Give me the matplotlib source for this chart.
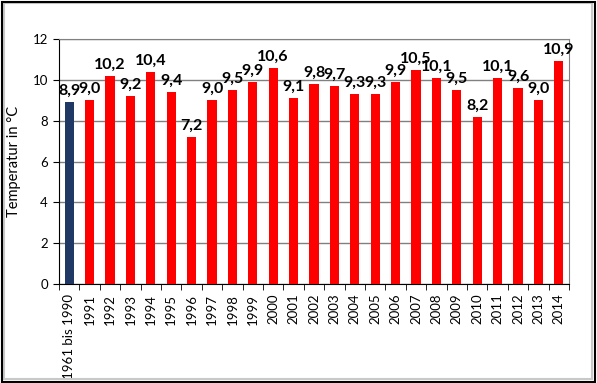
import matplotlib
matplotlib.use("Agg")
import matplotlib.pyplot as plt
from matplotlib.patches import Rectangle

categories = ["1961 bis 1990", "1991", "1992", "1993", "1994", "1995", "1996", "1997",
              "1998", "1999", "2000", "2001", "2002", "2003", "2004", "2005", "2006",
              "2007", "2008", "2009", "2010", "2011", "2012", "2013", "2014"]
values = [8.9, 9.0, 10.2, 9.2, 10.4, 9.4, 7.2, 9.0, 9.5, 9.9, 10.6, 9.1, 9.8, 9.7,
          9.3, 9.3, 9.9, 10.5, 10.1, 9.5, 8.2, 10.1, 9.6, 9.0, 10.9]
yticks = [0, 2, 4, 6, 8, 10, 12]

plt.rcParams['font.family'] = ['Lato', 'DejaVu Sans']

fig = plt.figure(figsize=(5.97, 3.83), dpi=100)
ax = fig.add_axes([59/597, 1 - 284/383, (569-59)/597, (284-39)/383])

colors = ['#1f3864'] + ['#ff0000'] * (len(values) - 1)
x = list(range(len(values)))
ax.bar(x, values, width=0.45, color=colors, zorder=3)

for xi, v in zip(x, values):
    ax.annotate(f"{v:.1f}".replace('.', ','), (xi, v), xytext=(0, 3),
                textcoords='offset points', ha='center', va='bottom',
                fontsize=11.5, fontweight='bold', zorder=4)

ax.set_xlim(-0.5, len(values) - 0.5)
ax.set_ylim(0, 12)
ax.set_yticks(yticks)
ax.set_yticklabels([str(t) for t in yticks], fontsize=9.5)
ax.yaxis.grid(True, color='#808080', linewidth=1.0, zorder=0)
ax.set_xticks(x)
ax.set_xticklabels(categories, rotation=90, fontsize=9.5)
ax.set_xticks([i - 0.5 for i in range(len(values) + 1)], minor=True)
ax.tick_params(axis='x', which='major', length=0, pad=7)
ax.tick_params(axis='x', which='minor', length=4, direction='out', color='black')
ax.tick_params(axis='y', length=4, direction='out', color='black', pad=4)
ax.set_ylabel("Temperatur in °C", fontsize=10.5, labelpad=8)

ax.spines['top'].set_color('#808080')
ax.spines['right'].set_color('#808080')
ax.spines['left'].set_color('black')
ax.spines['bottom'].set_color('black')

fig.patches.append(Rectangle((4/597, 4/383), 588/597, 376/383, transform=fig.transFigure,
                             fill=False, edgecolor='#c8c8c8', linewidth=1.5, zorder=0))
fig.patches.append(Rectangle((1.5/597, 1.5/383), 593.5/597, 380/383, transform=fig.transFigure,
                             fill=False, edgecolor='black', linewidth=1.5, zorder=1))

fig.savefig("out.png", dpi=100)
